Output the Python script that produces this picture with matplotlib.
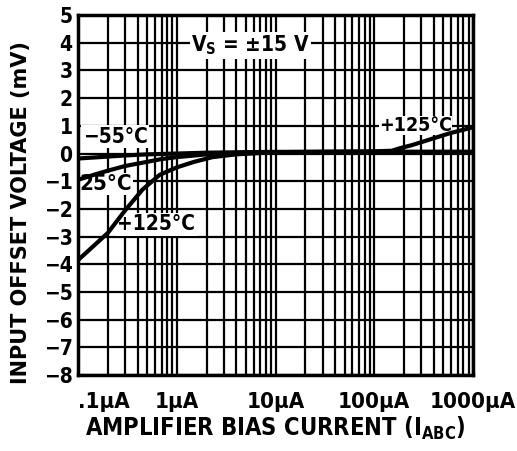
import matplotlib
matplotlib.use('Agg')
import matplotlib.pyplot as plt
from matplotlib.ticker import LogLocator, NullFormatter

plt.rcParams['font.family'] = ['DejaVu Sans']
plt.rcParams['font.weight'] = 'bold'
plt.rcParams['font.stretch'] = 'condensed'
plt.rcParams['mathtext.fontset'] = 'custom'
plt.rcParams['mathtext.bf'] = 'DejaVu Sans:bold'

# bias current (uA) and offset voltage (mV)
x_m55 = [0.1, 0.15, 0.2, 0.3, 0.5, 1, 2, 5, 10, 100, 1000]
v_m55 = [-0.18, -0.14, -0.11, -0.07, -0.03, 0.0, 0.03, 0.05, 0.06, 0.06, 0.06]

x_25 = [0.1, 0.15, 0.2, 0.3, 0.5, 0.7, 1, 2, 5, 10, 100, 1000]
v_25 = [-0.95, -0.75, -0.62, -0.45, -0.3, -0.2, -0.13, -0.03, 0.03, 0.05, 0.06, 0.06]

x_125 = [0.1, 0.2, 0.3, 0.45, 0.67, 1, 1.5, 2.3, 4, 10, 100, 150, 177, 238, 375, 590, 935, 1000]
v_125 = [-3.85, -2.87, -2.05, -1.3, -0.77, -0.5, -0.3, -0.13, -0.03, 0.05, 0.08, 0.1, 0.18, 0.3, 0.52, 0.74, 0.92, 0.97]

x_ticks = [0.1, 1, 10, 100, 1000]
x_labels = ['.1\u03bcA', '1\u03bcA', '10\u03bcA', '100\u03bcA', '1000\u03bcA']
y_ticks = list(range(-8, 6))


def main():
    fig = plt.figure(figsize=(5.17, 4.51), dpi=100)
    ax = fig.add_axes([0.151, 0.1685, 0.764, 0.798])

    ax.set_xscale('log')
    ax.set_xlim(0.1, 1000)
    ax.set_ylim(-8, 5)
    ax.xaxis.set_minor_locator(LogLocator(base=10, subs=range(2, 10)))
    ax.xaxis.set_minor_formatter(NullFormatter())
    ax.set_xticks(x_ticks)
    ax.set_xticklabels(x_labels)
    ax.get_xticklabels()[0].set_horizontalalignment('left')
    ax.set_yticks(y_ticks)
    ax.tick_params(which='both', length=0)
    ax.tick_params(axis='x', labelsize=16, pad=12)
    ax.tick_params(axis='y', labelsize=15, pad=4)
    ax.grid(which='both', color='black', lw=1.6)
    for s in ax.spines.values():
        s.set_linewidth(2.5)

    for xs, vs in ((x_m55, v_m55), (x_25, v_25), (x_125, v_125)):
        ax.plot(xs, vs, color='black', lw=3, solid_capstyle='butt', zorder=3)

    box = dict(facecolor='white', edgecolor='none', pad=1)
    ax.text(5.6, 3.9, 'V$_\\mathbf{S}$ = \u00b115 V', fontsize=15, ha='center', va='center', bbox=box, zorder=2.5)
    ax.text(0.112, 0.6, '\u221255\u00b0C', fontsize=15, ha='left', va='center', bbox=box, zorder=2.5)
    ax.text(0.103, -1.1, '25\u00b0C', fontsize=16, ha='left', va='center', bbox=box, zorder=2.5)
    ax.text(0.25, -2.55, '+125\u00b0C', fontsize=15, ha='left', va='center', bbox=box, zorder=2.5)
    ax.text(112, 1.02, '+125\u00b0C', fontsize=14, ha='left', va='center',
            bbox=dict(facecolor='white', edgecolor='none', pad=0), zorder=2.5)

    ax.set_xlabel('AMPLIFIER BIAS CURRENT (I$_\\mathbf{ABC}$)', fontsize=17, fontweight='bold', labelpad=2)
    ax.set_ylabel('INPUT OFFSET VOLTAGE (mV)', fontsize=15, fontweight='bold', fontstretch='normal')
    ax.yaxis.set_label_coords(-0.12, 0.45)

    fig.savefig('out.png', dpi=100)


if __name__ == '__main__':
    main()
